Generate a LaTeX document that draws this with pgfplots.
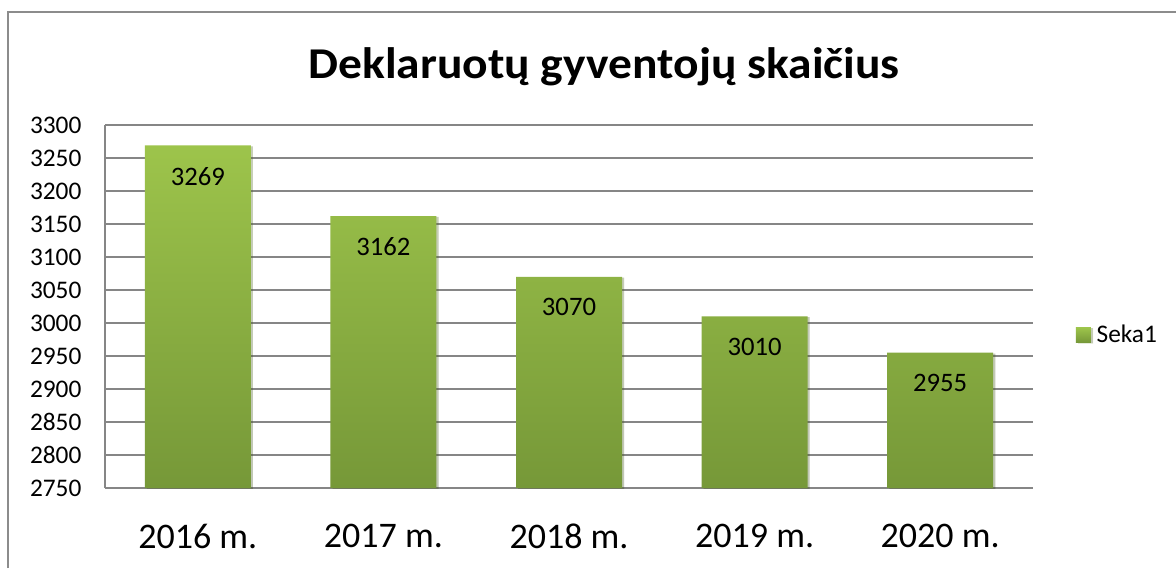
\documentclass[border=0pt]{standalone}
\usepackage{fontspec}
\setmainfont{Carlito}
\usepackage{graphicx}
\usepackage{pgfplots}
\pgfplotsset{compat=1.18}
\usetikzlibrary{shadows}
\definecolor{bartop}{RGB}{157,196,75}
\definecolor{barbot}{RGB}{118,152,56}
\definecolor{gridc}{RGB}{134,134,134}
\definecolor{framec}{RGB}{140,140,140}
\begin{document}
\begin{tikzpicture}
\useasboundingbox (0,0) rectangle (882pt,426pt);
\fill[white] (0,0) rectangle (882pt,426pt);
\draw[framec, line width=1.4pt] (6pt,0) -- (6pt,417pt) -- (882pt,417pt);
\node[anchor=base, font=\fontsize{33}{38}\selectfont\bfseries, inner sep=0pt] at (453pt,366.75pt) {\scalebox{1.08}[1]{Deklaruotų gyventojų skaičius}};
\begin{axis}[
  at={(78.75pt,60pt)}, anchor=south west,
  scale only axis, width=696pt, height=272.25pt,
  xmin=-0.5, xmax=4.5, ymin=2750, ymax=3300,
  ytick distance=50,
  xtick={0,1,2,3,4},
  xticklabels={2016 m.,2017 m.,2018 m.,2019 m.,2020 m.},
  /pgf/number format/assume math mode=true,
  /pgf/number format/1000 sep={},
  major tick length=0pt,
  tick style={draw=none},
  axis x line*=bottom, axis y line*=left,
  axis line style={gridc, line width=0.9pt, -},
  ymajorgrids, grid style={gridc, line width=0.9pt},
  yticklabel style={font=\fontsize{19}{22}\selectfont, inner sep=0pt, anchor=east, xshift=-17.5pt},
  xticklabel style={font=\fontsize{27}{32}\selectfont, inner sep=0pt, anchor=north, yshift=-27pt},
  ybar, bar width=79.5pt,
  nodes near coords,
  nodes near coords style={anchor=north, inner sep=0pt, yshift=-16pt, font=\fontsize{20}{23}\selectfont, /pgf/number format/assume math mode=true},
  legend style={draw=none, fill=none, at={(1.046,0.4215)}, anchor=west, inner sep=0pt,
    font=\fontsize{19}{22}\selectfont, nodes={inner sep=0pt, outer sep=0pt}},
  legend image code/.code={\fill[top color=bartop, bottom color=barbot] (0pt,-5.6pt) rectangle (11.25pt,5.6pt); \path (15.5pt,0);},
]
\addplot[draw=none, top color=bartop, bottom color=barbot,
  drop shadow={shadow xshift=1.6pt, shadow yshift=-0.6pt, opacity=0.18, fill=black}] coordinates {(0,3269) (1,3162) (2,3070) (3,3010) (4,2955)};
\addlegendentry{Seka1}
\end{axis}
\end{tikzpicture}
\end{document}
